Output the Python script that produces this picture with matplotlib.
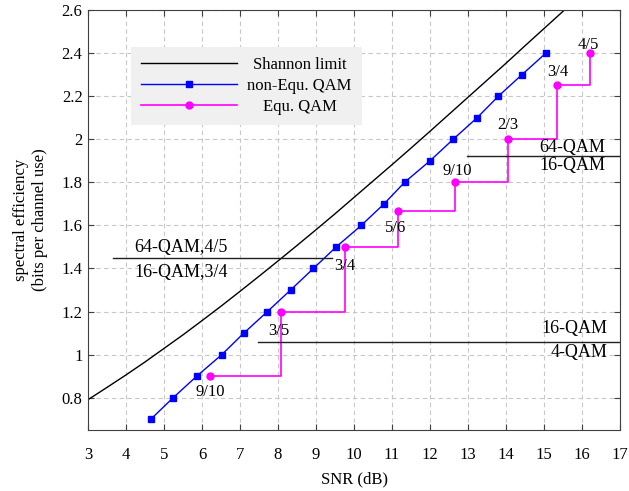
import matplotlib

matplotlib.use("Agg")
import matplotlib.pyplot as plt

plt.rcParams["font.family"] = ["Liberation Serif", "DejaVu Serif"]

# Shannon limit curve
shannon_snr = [3, 3.5, 4, 4.5, 5, 5.5, 6, 6.5, 7, 7.5, 8, 8.5, 9, 9.5,
               10, 10.5, 11, 11.5, 12, 12.5, 13, 13.5, 14, 14.5, 15, 15.5, 16]
shannon_se = [0.791, 0.848, 0.906, 0.966, 1.029, 1.092, 1.158, 1.225, 1.294,
              1.364, 1.435, 1.507, 1.580, 1.654, 1.730, 1.806, 1.882, 1.959,
              2.037, 2.116, 2.195, 2.274, 2.353, 2.434, 2.514, 2.594, 2.676]

# non-equal QAM points
nonequ_snr = [4.65, 5.24, 5.86, 6.52, 7.10, 7.72, 8.33, 8.93, 9.53, 10.19,
              10.79, 11.33, 12.00, 12.61, 13.24, 13.80, 14.42, 15.05]
nonequ_se = [0.7, 0.8, 0.9, 1.0, 1.1, 1.2, 1.3, 1.4, 1.5, 1.6, 1.7, 1.8,
             1.9, 2.0, 2.1, 2.2, 2.3, 2.4]

# equal QAM points and their code rates
equ_snr = [6.21, 8.07, 9.75, 11.15, 12.65, 14.04, 15.33, 16.21]
equ_se = [0.9, 1.2, 1.5, 1.667, 1.8, 2.0, 2.25, 2.4]
equ_rates = ["9/10", "3/5", "3/4", "5/6", "9/10", "2/3", "3/4", "4/5"]
rate_offsets = [(0, -11.5), (-1.5, -13.7), (0, -13.7), (-1.5, -12),
                (2, 8), (0, 10), (1, 10), (-1, 6)]

# modulation boundaries
sep_y = [1.45, 1.06, 1.922]
sep_x0 = [3.66, 7.46, 12.96]
sep_x1 = [9.43, 17.0, 17.0]

fig = plt.figure(figsize=(6.29, 4.91), dpi=100)
ax = fig.add_axes([0.140, 0.1242, 0.8457, 0.8554])

ax.plot(shannon_snr, shannon_se, color="black", lw=1.0, label="Shannon limit")
ax.plot(nonequ_snr, nonequ_se, color="#0000ff", lw=1.0, marker="s", ms=4.2,
        label="non-Equ. QAM")
ax.plot(equ_snr, equ_se, color="#ff00ff", lw=1.2, marker="o", ms=5,
        drawstyle="steps-post", label="Equ. QAM")

for x, y, r, off in zip(equ_snr, equ_se, equ_rates, rate_offsets):
    ax.annotate(r, (x, y), xytext=off, textcoords="offset points",
                ha="center", va="center", fontsize=12)

for y, x0, x1 in zip(sep_y, sep_x0, sep_x1):
    ax.plot([x0, x1], [y, y], color="#202020", lw=1.0)

ax.text(4.21, 1.497, "64-QAM,4/5", fontsize=13, va="center", ha="left")
ax.text(4.21, 1.383, "16-QAM,3/4", fontsize=13, va="center", ha="left")
ax.text(16.66, 1.12, "16-QAM", fontsize=13, va="center", ha="right")
ax.text(16.66, 1.011, "4-QAM", fontsize=13, va="center", ha="right")
ax.text(16.62, 1.964, "64-QAM", fontsize=13, va="center", ha="right")
ax.text(16.62, 1.879, "16-QAM", fontsize=13, va="center", ha="right")

ax.set_xlim(3, 17)
ax.set_ylim(0.65, 2.6)
ax.set_xticks(range(3, 18))
ax.set_yticks([0.8, 1.0, 1.2, 1.4, 1.6, 1.8, 2.0, 2.2, 2.4, 2.6])
ax.yaxis.set_major_formatter(matplotlib.ticker.FormatStrFormatter("%g"))
ax.tick_params(direction="in", top=True, right=True, labelsize=12,
               length=4, color="#404040")
ax.tick_params(axis="x", pad=12)
ax.tick_params(axis="y", pad=4)
ax.grid(True, linestyle=(0, (4, 3)), color="#c8c8c8", lw=0.8)
ax.set_axisbelow(True)
for s in ax.spines.values():
    s.set_color("#404040")

ax.set_xlabel("SNR (dB)", fontsize=12, labelpad=6)
ax.set_ylabel("spectral efficiency\n(bits per channel use)", fontsize=12,
              labelpad=10)

leg = ax.legend(loc="upper left", bbox_to_anchor=(0.08, 0.912),
                borderaxespad=0, fontsize=12, handlelength=5.8,
                handletextpad=0.6, labelspacing=0.3, borderpad=0.6,
                numpoints=1, fancybox=False, framealpha=1)
leg.get_frame().set_facecolor("#f0f0f0")
leg.get_frame().set_edgecolor("none")

# center the legend texts in their column
fig.canvas.draw()
widths = [t.get_window_extent().width for t in leg.get_texts()]
for t, w in zip(leg.get_texts(), widths):
    t.set_position(((max(widths) - w) / 2, 0))

fig.savefig("out.png", dpi=100)
